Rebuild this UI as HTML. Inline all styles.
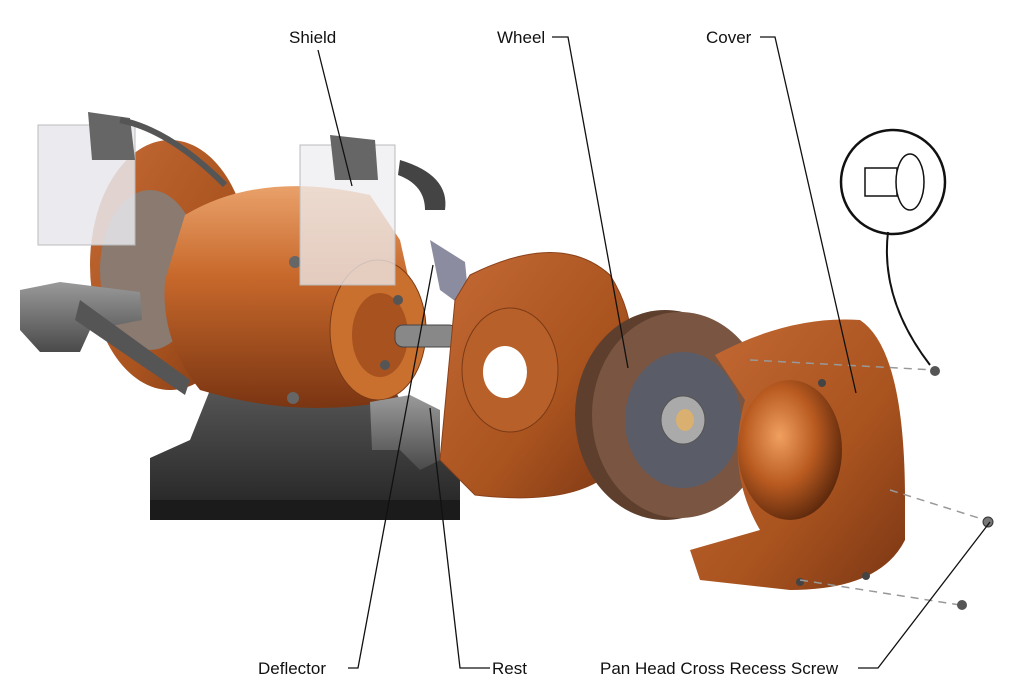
<!DOCTYPE html>
<html><head><meta charset="utf-8"><style>
html,body{margin:0;padding:0;background:#fff;width:1009px;height:690px;overflow:hidden}
svg{display:block}
text{font-family:"Liberation Sans",sans-serif;font-size:17px;fill:#111}
</style></head><body>
<svg width="1009" height="690" viewBox="0 0 1009 690" xmlns="http://www.w3.org/2000/svg">
<defs>
<linearGradient id="cu" x1="0" y1="0" x2="0" y2="1">
<stop offset="0" stop-color="#e9a16a"/><stop offset="0.4" stop-color="#c8692c"/><stop offset="1" stop-color="#7a3512"/></linearGradient>
<linearGradient id="cu2" x1="0" y1="0" x2="1" y2="1">
<stop offset="0" stop-color="#c46a35"/><stop offset="0.6" stop-color="#a9531f"/><stop offset="1" stop-color="#7b3614"/></linearGradient>
<radialGradient id="hole" cx="0.4" cy="0.4" r="0.7">
<stop offset="0" stop-color="#f0a060"/><stop offset="0.5" stop-color="#b85a20"/><stop offset="1" stop-color="#4a1e08"/></radialGradient>
<linearGradient id="dk" x1="0" y1="0" x2="0" y2="1">
<stop offset="0" stop-color="#555"/><stop offset="1" stop-color="#222"/></linearGradient>
<linearGradient id="gy" x1="0" y1="0" x2="0" y2="1">
<stop offset="0" stop-color="#9a9a9a"/><stop offset="1" stop-color="#4a4a4a"/></linearGradient>
</defs>

<ellipse cx="170" cy="265" rx="80" ry="125" fill="url(#cu2)"/>
<ellipse cx="150" cy="270" rx="50" ry="80" fill="#8a7a70"/>
<rect x="38" y="125" width="97" height="120" fill="#e8e8ec" fill-opacity="0.85" stroke="#bbb"/>
<path d="M88 112 L130 118 L135 160 L92 160Z" fill="#666"/>
<path d="M120 120 Q170 130 225 185" stroke="#555" stroke-width="6" fill="none"/>
<path d="M20 290 L60 282 L140 292 L142 320 L90 330 L80 352 L40 352 L20 330Z" fill="url(#gy)"/>
<path d="M80 300 L190 380 L185 395 L75 320Z" fill="#555"/>
<path d="M210 390 L395 390 L420 440 L460 470 L460 520 L150 520 L150 458 L190 440Z" fill="url(#dk)"/>
<path d="M150 500 L460 500 L460 520 L150 520Z" fill="#1b1b1b"/>
<path d="M185 215 Q260 170 370 195 L400 240 L420 330 L395 400 Q300 420 200 390 Q160 340 165 280Z" fill="url(#cu)"/>
<ellipse cx="378" cy="330" rx="48" ry="70" fill="#c9702f" stroke="#7a3a15"/>
<ellipse cx="380" cy="335" rx="28" ry="42" fill="#a85220"/>
<rect x="395" y="325" width="62" height="22" rx="8" fill="#888" stroke="#444"/>
<circle cx="295" cy="262" r="6" fill="#666"/><circle cx="293" cy="398" r="6" fill="#666"/>
<circle cx="398" cy="300" r="5" fill="#555"/><circle cx="385" cy="365" r="5" fill="#555"/>
<rect x="300" y="145" width="95" height="140" fill="#eeeef2" fill-opacity="0.75" stroke="#bbb"/>
<path d="M330 135 L375 140 L378 180 L335 180Z" fill="#666"/>
<path d="M400 160 Q450 175 445 210 L425 210 Q425 185 398 175Z" fill="#444"/>
<path d="M430 240 L465 262 L470 312 L440 290Z" fill="#8c8ca0"/>
<path d="M370 402 L410 395 L440 410 L440 460 L420 470 L400 450 L372 450Z" fill="url(#gy)"/>
<path d="M470 275 Q560 230 610 275 Q645 330 625 400 L600 480 Q560 505 475 495 L440 460 L455 300Z" fill="url(#cu2)" stroke="#8a4018"/>
<ellipse cx="510" cy="370" rx="48" ry="62" fill="#b8602a" stroke="#7a3a15"/>
<ellipse cx="505" cy="372" rx="22" ry="26" fill="#fff"/>
<ellipse cx="665" cy="415" rx="90" ry="105" fill="#5e3f2d"/>
<ellipse cx="680" cy="415" rx="88" ry="103" fill="#7a5642"/>
<ellipse cx="683" cy="420" rx="58" ry="68" fill="#5a5c68"/>
<ellipse cx="683" cy="420" rx="22" ry="24" fill="#aaa" stroke="#555"/>
<ellipse cx="685" cy="420" rx="9" ry="11" fill="#d9b070"/>
<path d="M715 355 Q790 315 860 320 Q905 350 905 500 L905 540 Q880 590 790 590 L700 580 L690 550 L760 530 Q725 470 745 400 Z" fill="url(#cu2)"/>
<ellipse cx="790" cy="450" rx="52" ry="70" fill="url(#hole)"/>
<circle cx="822" cy="383" r="4" fill="#444"/><circle cx="866" cy="576" r="4" fill="#444"/><circle cx="800" cy="582" r="4" fill="#444"/>
<g stroke="#999" stroke-dasharray="8 6" stroke-width="1.5">
<line x1="750" y1="360" x2="935" y2="370"/><line x1="890" y1="490" x2="985" y2="520"/><line x1="800" y1="580" x2="960" y2="605"/></g>
<circle cx="935" cy="371" r="5" fill="#555"/><circle cx="988" cy="522" r="5" fill="#777" stroke="#333"/><circle cx="962" cy="605" r="5" fill="#555"/>
<circle cx="893" cy="182" r="52" fill="#fff" stroke="#111" stroke-width="2.5"/>
<rect x="865" y="168" width="32" height="28" fill="#fff" stroke="#111" stroke-width="1.5"/>
<ellipse cx="910" cy="182" rx="14" ry="28" fill="#fff" stroke="#111" stroke-width="1.5"/>
<path d="M888 232 Q880 300 930 365" stroke="#111" stroke-width="2" fill="none"/>

<g stroke="#111" stroke-width="1.3" fill="none">
<polyline points="318,50 352,186"/>
<polyline points="552,37 568,37 628,368"/>
<polyline points="760,37 775,37 856,393"/>
<polyline points="348,668 358,668 433,265"/>
<polyline points="490,668 460,668 430,408"/>
<polyline points="858,668 878,668 990,522"/>
</g>
<text x="289" y="43">Shield</text>
<text x="497" y="43">Wheel</text>
<text x="706" y="43">Cover</text>
<text x="258" y="674">Deflector</text>
<text x="492" y="674">Rest</text>
<text x="600" y="674">Pan Head Cross Recess Screw</text>
</svg>
</body></html>
